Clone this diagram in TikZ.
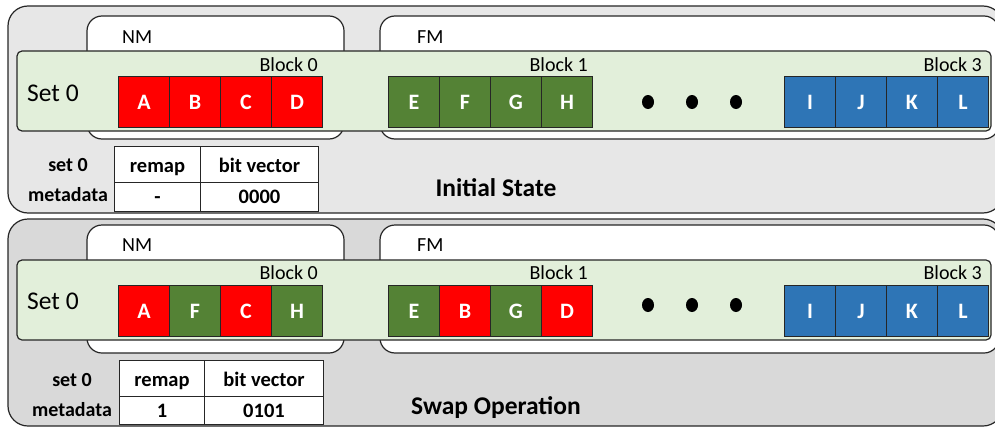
\documentclass[tikz,border=0pt]{standalone}
\usepackage{fontspec}
\setmainfont{Carlito}
\definecolor{cred}{HTML}{FF0000}
\definecolor{cgreen}{HTML}{548235}
\definecolor{cblue}{HTML}{2E75B6}
\definecolor{bandfill}{HTML}{E2EFDA}
\definecolor{panelA}{HTML}{E7E7E7}
\definecolor{panelB}{HTML}{D9D9D9}
\begin{document}
\begin{tikzpicture}[x=1pt,y=-1pt,
  panel/.style={draw=black!85, line width=1.2pt, rounded corners=20pt},
  membox/.style={draw=black!85, fill=white, line width=1.2pt, rounded corners=15pt},
  band/.style={draw=black!85, fill=bandfill, line width=1.2pt, rounded corners=5pt},
  cell/.style={draw=black!85, line width=1pt, minimum width=51pt, minimum height=51pt,
    inner sep=0pt, anchor=north west, text=white, text height=14.5pt, text depth=0pt,
    font=\fontsize{22}{24}\selectfont\bfseries},
  tcell/.style={draw=black!85, fill=white, line width=1pt, inner sep=0pt, anchor=north west,
    text depth=0pt, font=\fontsize{20.5}{22}\selectfont\bfseries},
  headrow/.style={tcell, text height=16pt},
  valrow/.style={tcell, text height=13pt},
  lbl/.style={inner sep=0pt, font=\fontsize{20}{22}\selectfont},
  setlbl/.style={inner sep=0pt, font=\fontsize{25.5}{28}\selectfont},
  side/.style={inner sep=0pt, align=center, font=\fontsize{20}{30}\selectfont\bfseries},
  title/.style={inner sep=0pt, font=\fontsize{25.5}{28}\selectfont\bfseries},
  dot/.style={fill=black}]
\useasboundingbox (0,0) rectangle (995,428);
\clip (0,0) rectangle (995,428);

% ---------------- initial state ----------------
\draw[panel, fill=panelA] (8,6) rectangle (1003,213);
\draw[membox] (87,16) rectangle (344,139);
\draw[membox] (380,16) rectangle (999,139);
\node[lbl, anchor=west] (nmA) at (122,37) {NM};
\node[lbl, anchor=west] (fmA) at (417,37) {FM};
\draw[band] (17,51) rectangle (991,131);
\node[setlbl, anchor=west] (setA) at (27,93) {Set 0};
\node[lbl, anchor=east] (blk0A) at (318,65) {Block 0};
\node[lbl, anchor=east] (blk1A) at (588,65) {Block 1};
\node[lbl, anchor=east] (blk3A) at (982,65) {Block 3};
\foreach \lab/\col [count=\i from 0] in {A/cred,B/cred,C/cred,D/cred}
  \node[cell, fill=\col] (nA\i) at ({118+51*\i},76) {\lab};
\foreach \lab/\col [count=\i from 0] in {E/cgreen,F/cgreen,G/cgreen,H/cgreen}
  \node[cell, fill=\col] (fA\i) at ({388+51*\i},76) {\lab};
\foreach \lab/\col [count=\i from 0] in {I/cblue,J/cblue,K/cblue,L/cblue}
  \node[cell, fill=\col] (gA\i) at ({784+51*\i},76) {\lab};
\foreach \x in {648,692,736}
  \fill[dot] (\x,102) ellipse [x radius=6pt, y radius=7pt];
\node[headrow, minimum width=86pt, minimum height=36pt] (remapA) at (114,146) {remap};
\node[headrow, minimum width=118pt, minimum height=36pt] (bitsA) at (200,146) {bit vector};
\node[valrow, minimum width=86pt, minimum height=29pt] (remapvA) at (114,182) {-};
\node[valrow, minimum width=118pt, minimum height=29pt] (bitsvA) at (200,182) {0000};
\node[side] (metaA) at (68,180) {set 0\\metadata};
\node[title] (titleA) at (496,188) {Initial State};

% ---------------- swap operation ----------------
\draw[panel, fill=panelB] (8,219) rectangle (1003,426);
\draw[membox] (87,225) rectangle (344,353);
\draw[membox] (380,225) rectangle (999,353);
\node[lbl, anchor=west] (nmB) at (122,245) {NM};
\node[lbl, anchor=west] (fmB) at (417,245) {FM};
\draw[band] (17,260) rectangle (991,340);
\node[setlbl, anchor=west] (setB) at (27,301) {Set 0};
\node[lbl, anchor=east] (blk0B) at (318,273) {Block 0};
\node[lbl, anchor=east] (blk1B) at (588,273) {Block 1};
\node[lbl, anchor=east] (blk3B) at (982,273) {Block 3};
\foreach \lab/\col [count=\i from 0] in {A/cred,F/cgreen,C/cred,H/cgreen}
  \node[cell, fill=\col] (nB\i) at ({118+51*\i},285) {\lab};
\foreach \lab/\col [count=\i from 0] in {E/cgreen,B/cred,G/cgreen,D/cred}
  \node[cell, fill=\col] (fB\i) at ({388+51*\i},285) {\lab};
\foreach \lab/\col [count=\i from 0] in {I/cblue,J/cblue,K/cblue,L/cblue}
  \node[cell, fill=\col] (gB\i) at ({784+51*\i},285) {\lab};
\foreach \x in {648,692,736}
  \fill[dot] (\x,305) ellipse [x radius=6pt, y radius=7pt];
\node[headrow, minimum width=85pt, minimum height=36pt] (remapB) at (119,360) {remap};
\node[headrow, minimum width=119pt, minimum height=36pt] (bitsB) at (204,360) {bit vector};
\node[valrow, minimum width=85pt, minimum height=28pt] (remapvB) at (119,396) {1};
\node[valrow, minimum width=119pt, minimum height=28pt] (bitsvB) at (204,396) {0101};
\node[side] (metaB) at (72,395) {set 0\\metadata};
\node[title] (titleB) at (496,408) {Swap Operation};
\end{tikzpicture}
\end{document}
